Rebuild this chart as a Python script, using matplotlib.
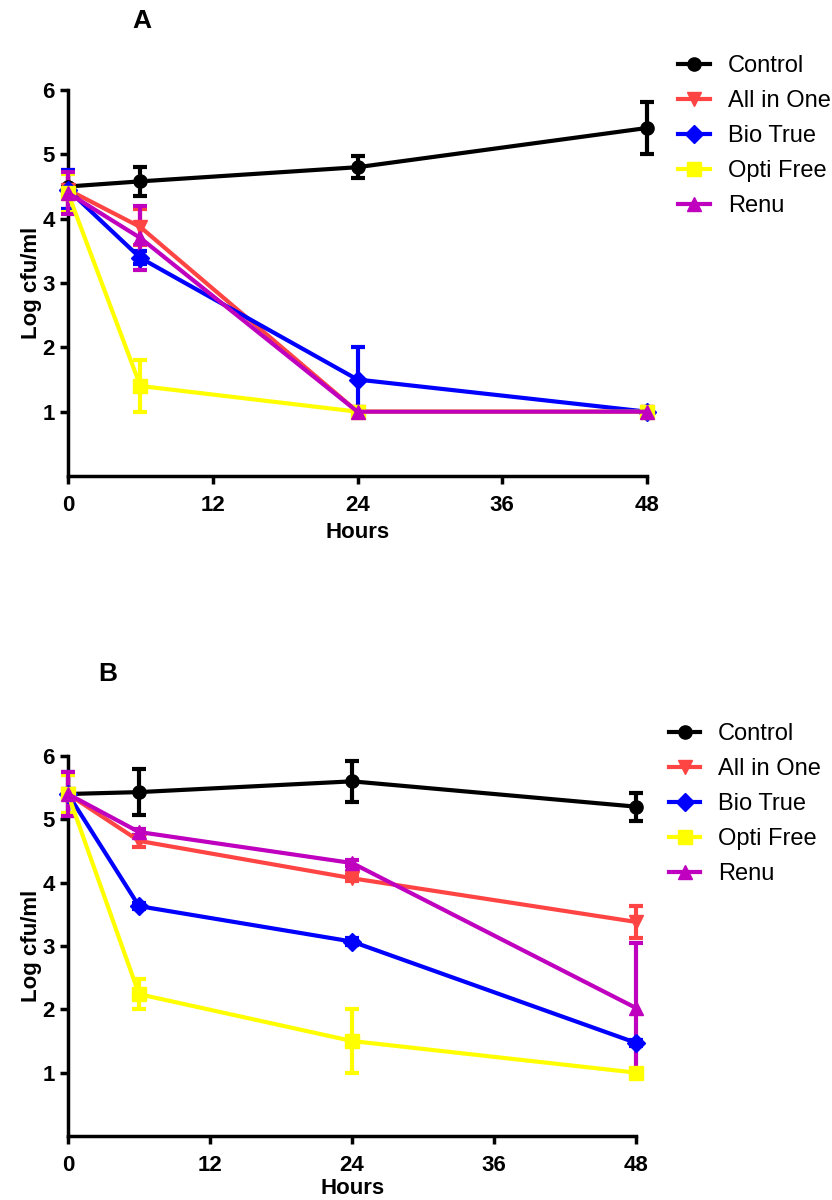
import matplotlib
matplotlib.use("Agg")
import matplotlib.pyplot as plt

plt.rcParams['font.family'] = ['Liberation Sans', 'DejaVu Sans']

hours = [0, 6, 24, 48]
names = ["Control", "All in One", "Bio True", "Opti Free", "Renu"]
colors = ["black", "#ff4444", "#0000ff", "#ffff00", "#bf00bf"]
markers = ["o", "v", "D", "s", "^"]

# panel A
a_control = [4.5, 4.58, 4.8, 5.41]
a_allinone = [4.45, 3.87, 1.0, 1.0]
a_biotrue = [4.45, 3.39, 1.5, 1.0]
a_optifree = [4.4, 1.4, 1.0, 1.0]
a_renu = [4.4, 3.7, 1.0, 1.0]
a_control_err = [0, 0.22, 0.17, 0.4]
a_allinone_err = [0.3, 0.28, 0, 0]
a_biotrue_err = [0.3, 0.1, 0.5, 0.05]
a_optifree_err = [0.3, 0.4, 0, 0]
a_renu_err = [0.32, 0.5, 0, 0]

# panel B
b_control = [5.4, 5.43, 5.6, 5.2]
b_allinone = [5.4, 4.66, 4.07, 3.38]
b_biotrue = [5.4, 3.63, 3.07, 1.47]
b_optifree = [5.4, 2.24, 1.5, 1.0]
b_renu = [5.4, 4.8, 4.31, 2.02]
b_control_err = [0, 0.36, 0.32, 0.22]
b_allinone_err = [0.3, 0.1, 0.05, 0.25]
b_biotrue_err = [0.35, 0.05, 0.05, 0.05]
b_optifree_err = [0.3, 0.24, 0.5, 0]
b_renu_err = [0.35, 0.05, 0.05, 1.02]

x_ticks = [0, 12, 24, 36, 48]
y_ticks = [1, 2, 3, 4, 5, 6]


def draw_panel(ax, values, errors, letter, letter_pos, leg_anchor, xpad):
    handles = []
    for v, e, c, m, n in zip(values, errors, colors, markers, names):
        cont = ax.errorbar(hours, v, yerr=e, color=c, marker=m, ms=9.5, lw=3,
                           elinewidth=3, capsize=5, capthick=3, label=n,
                           clip_on=False, zorder=3)
        handles.append(cont.lines[0])
    ax.set_xlim(0, 48)
    ax.set_ylim(0, 6)
    ax.set_xticks(x_ticks)
    ax.set_yticks(y_ticks)
    ax.spines['top'].set_visible(False)
    ax.spines['right'].set_visible(False)
    ax.spines['left'].set_linewidth(2.5)
    ax.spines['bottom'].set_linewidth(2.5)
    ax.tick_params(width=2.5, length=6, labelsize=16)
    ax.tick_params(axis='x', pad=8)
    for t in ax.get_xticklabels() + ax.get_yticklabels():
        t.set_fontweight('bold')
    ax.set_xlabel("Hours", fontsize=16, fontweight='bold', labelpad=xpad)
    ax.set_ylabel("Log cfu/ml", fontsize=16, fontweight='bold', labelpad=0)
    ax.text(letter_pos[0], letter_pos[1], letter, transform=ax.transAxes,
            fontsize=19, fontweight='bold', ha='center', va='center')
    ax.legend(handles, names, loc='upper left', bbox_to_anchor=leg_anchor,
              frameon=False, fontsize=17, handlelength=1.35,
              labelspacing=0.55, handletextpad=0.75, borderaxespad=0,
              borderpad=0)


fig = plt.figure(figsize=(8.32, 12), dpi=100)
ax1 = fig.add_axes([0.0817, 0.6033, 0.696, 0.3217])
ax2 = fig.add_axes([0.0817, 0.0533, 0.683, 0.3167])

draw_panel(ax1, [a_control, a_allinone, a_biotrue, a_optifree, a_renu],
           [a_control_err, a_allinone_err, a_biotrue_err, a_optifree_err, a_renu_err],
           "A", (0.128, 1.18), (1.054, 1.09), 4)
draw_panel(ax2, [b_control, b_allinone, b_biotrue, b_optifree, b_renu],
           [b_control_err, b_allinone_err, b_biotrue_err, b_optifree_err, b_renu_err],
           "B", (0.07, 1.215), (1.057, 1.086), 1)

fig.savefig("out.png", dpi=100)
